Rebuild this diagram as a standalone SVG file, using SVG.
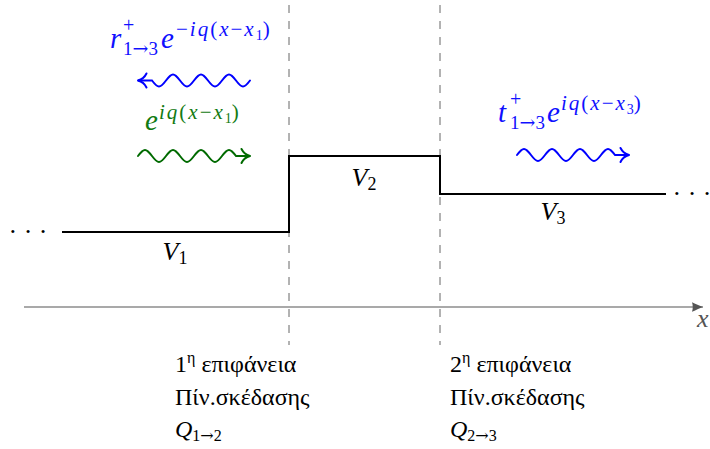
<svg xmlns="http://www.w3.org/2000/svg" width="710" height="449" viewBox="0 0 710 449">
<style>
.lbl{font-family:"Liberation Serif",serif !important;}
.arr{font-family:"DejaVu Serif",serif !important;}
</style>
<defs>
<marker id="ah-blue" markerUnits="userSpaceOnUse" orient="auto" viewBox="-11 -9 13 18" markerWidth="13" markerHeight="18" refX="0" refY="0" overflow="visible">
<path d="M-8.5,-7 C-6.5,-3 -2.5,-0.6 0,0 C-2.5,0.6 -6.5,3 -8.5,7" fill="none" stroke="#0000ff" stroke-width="2" stroke-linecap="round"/>
</marker>
<marker id="ah-green" markerUnits="userSpaceOnUse" orient="auto" viewBox="-11 -9 13 18" markerWidth="13" markerHeight="18" refX="0" refY="0" overflow="visible">
<path d="M-8.5,-7 C-6.5,-3 -2.5,-0.6 0,0 C-2.5,0.6 -6.5,3 -8.5,7" fill="none" stroke="#006a00" stroke-width="2" stroke-linecap="round"/>
</marker>
<marker id="ah-axis" markerUnits="userSpaceOnUse" orient="auto" viewBox="-12 -6 13 12" markerWidth="13" markerHeight="12" refX="0" refY="0" overflow="visible">
<path d="M0,0 C-3,-1 -8,-3.5 -11,-4.8 C-10,-2 -10,2 -11,4.8 C-8,3.5 -3,1 0,0 Z" fill="#555"/>
</marker>
</defs>

<g id="connectors" fill="none" stroke-width="2" stroke-linecap="round">
<g stroke="#666" stroke-width="1" stroke-dasharray="8 8" stroke-linecap="butt">
<line x1="289" y1="5" x2="289" y2="345"/>
<line x1="440" y1="5" x2="440" y2="345"/>
</g>
<line x1="24" y1="307" x2="703" y2="307" stroke="#555" stroke-width="1.2" stroke-linecap="butt" marker-end="url(#ah-axis)"/>
<path id="potential" d="M62,232 H289 V156 H440 V194 H666" stroke="#000" stroke-linecap="butt"/>
<path id="wave-reflected" stroke="#0000ff" marker-end="url(#ah-blue)" transform="translate(250,80.5) rotate(180)" d="M0,0 c2.283,-3.074 4.466,-6 7,-6 c2.534,0 4.717,2.926 7,6 c2.283,3.074 4.466,6 7,6 c2.534,0 4.717,-2.926 7,-6 c2.283,-3.074 4.466,-6 7,-6 c2.534,0 4.717,2.926 7,6 c2.283,3.074 4.466,6 7,6 c2.534,0 4.717,-2.926 7,-6 c2.283,-3.074 4.466,-6 7,-6 c2.534,0 4.717,2.926 7,6 c2.283,3.074 4.466,6 7,6 c2.534,0 4.717,-2.926 7,-6 c2.283,-3.074 4.466,-6 7,-6 c2.534,0 4.717,2.926 7,6 h14"/>
<path id="wave-incident" stroke="#006a00" marker-end="url(#ah-green)" transform="translate(138,156)" d="M0,0 c2.283,-3.074 4.466,-6 7,-6 c2.534,0 4.717,2.926 7,6 c2.283,3.074 4.466,6 7,6 c2.534,0 4.717,-2.926 7,-6 c2.283,-3.074 4.466,-6 7,-6 c2.534,0 4.717,2.926 7,6 c2.283,3.074 4.466,6 7,6 c2.534,0 4.717,-2.926 7,-6 c2.283,-3.074 4.466,-6 7,-6 c2.534,0 4.717,2.926 7,6 c2.283,3.074 4.466,6 7,6 c2.534,0 4.717,-2.926 7,-6 c2.283,-3.074 4.466,-6 7,-6 c2.534,0 4.717,2.926 7,6 h14"/>
<path id="wave-transmitted" stroke="#0000ff" marker-end="url(#ah-blue)" transform="translate(517,155)" d="M0,0 c2.283,-3.074 4.466,-6 7,-6 c2.534,0 4.717,2.926 7,6 c2.283,3.074 4.466,6 7,6 c2.534,0 4.717,-2.926 7,-6 c2.283,-3.074 4.466,-6 7,-6 c2.534,0 4.717,2.926 7,6 c2.283,3.074 4.466,6 7,6 c2.534,0 4.717,-2.926 7,-6 c2.283,-3.074 4.466,-6 7,-6 c2.534,0 4.717,2.926 7,6 c2.283,3.074 4.466,6 7,6 c2.534,0 4.717,-2.926 7,-6 c2.283,-3.074 4.466,-6 7,-6 c2.534,0 4.717,2.926 7,6 h14"/>
</g>

<g id="label-reflected">
<text class="lbl" style="font-family:'Liberation Serif',serif !important" font-size="29" fill="#1010ff"><tspan font-style="italic" x="110" y="48">r</tspan><tspan x="123" y="32" font-size="20">+</tspan><tspan font-size="19" x="123" y="55">1<tspan class="arr">→</tspan>3</tspan><tspan font-style="italic" x="161" y="48">e</tspan><tspan font-size="21" letter-spacing="2" x="176" y="36">−<tspan font-style="italic">iq</tspan>(<tspan font-style="italic">x</tspan>−<tspan font-style="italic">x</tspan></tspan><tspan font-size="14" y="40">1</tspan><tspan font-size="21" y="36">)</tspan></text>
</g>
<g id="label-incident">
<text class="lbl" style="font-family:'Liberation Serif',serif !important" font-size="29" fill="#127a12"><tspan font-style="italic" x="145" y="130">e</tspan><tspan font-size="21" letter-spacing="2" x="159" y="119"><tspan font-style="italic">iq</tspan>(<tspan font-style="italic">x</tspan>−<tspan font-style="italic">x</tspan></tspan><tspan font-size="14" y="123">1</tspan><tspan font-size="21" y="119">)</tspan></text>
</g>
<g id="label-transmitted">
<text class="lbl" style="font-family:'Liberation Serif',serif !important" font-size="29" fill="#1010ff"><tspan font-style="italic" x="498" y="122">t</tspan><tspan x="510" y="106" font-size="20">+</tspan><tspan font-size="19" x="510" y="129">1<tspan class="arr">→</tspan>3</tspan><tspan font-style="italic" x="547" y="122">e</tspan><tspan font-size="21" letter-spacing="2" x="561" y="110"><tspan font-style="italic">iq</tspan>(<tspan font-style="italic">x</tspan>−<tspan font-style="italic">x</tspan></tspan><tspan font-size="14" y="114">3</tspan><tspan font-size="21" y="110">)</tspan></text>
</g>

<g id="label-V1"><text class="lbl" style="font-family:'Liberation Serif',serif !important" font-size="26" x="175" y="260" text-anchor="middle"><tspan font-style="italic">V</tspan><tspan font-size="18" dy="4">1</tspan></text></g>
<g id="label-V2"><text class="lbl" style="font-family:'Liberation Serif',serif !important" font-size="26" x="364" y="186" text-anchor="middle"><tspan font-style="italic">V</tspan><tspan font-size="18" dy="4">2</tspan></text></g>
<g id="label-V3"><text class="lbl" style="font-family:'Liberation Serif',serif !important" font-size="26" x="553" y="220" text-anchor="middle"><tspan font-style="italic">V</tspan><tspan font-size="18" dy="4">3</tspan></text></g>

<g id="dots-left"><text class="lbl" style="font-family:'Liberation Serif',serif !important" font-size="26" x="28" y="240" text-anchor="middle">· · ·</text></g>
<g id="dots-right"><text class="lbl" style="font-family:'Liberation Serif',serif !important" font-size="26" x="692" y="202" text-anchor="middle">· · ·</text></g>
<g id="axis-label"><text class="lbl" style="font-family:'Liberation Serif',serif !important" font-size="26" font-style="italic" fill="#555" x="697" y="327">x</text></g>

<g id="surface-1">
<text class="lbl" style="font-family:'Liberation Serif',serif !important" font-size="24" x="175" y="372">1<tspan font-size="16" dy="-9">η</tspan><tspan dy="9"> επιφάνεια</tspan></text>
<text class="lbl" style="font-family:'Liberation Serif',serif !important" font-size="24" x="175" y="405">Πίν.σκέδασης</text>
<text class="lbl" style="font-family:'Liberation Serif',serif !important" font-size="24" x="175" y="437"><tspan font-style="italic">Q</tspan><tspan font-size="16" dy="4">1<tspan class="arr">→</tspan>2</tspan></text>
</g>
<g id="surface-2">
<text class="lbl" style="font-family:'Liberation Serif',serif !important" font-size="24" x="450" y="372">2<tspan font-size="16" dy="-9">η</tspan><tspan dy="9"> επιφάνεια</tspan></text>
<text class="lbl" style="font-family:'Liberation Serif',serif !important" font-size="24" x="450" y="405">Πίν.σκέδασης</text>
<text class="lbl" style="font-family:'Liberation Serif',serif !important" font-size="24" x="450" y="437"><tspan font-style="italic">Q</tspan><tspan font-size="16" dy="4">2<tspan class="arr">→</tspan>3</tspan></text>
</g>
</svg>
